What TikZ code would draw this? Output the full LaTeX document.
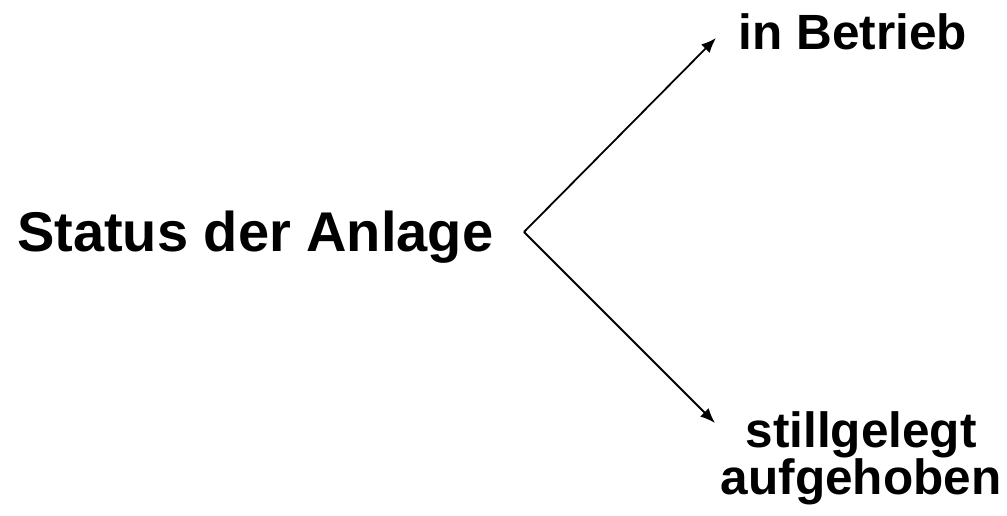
\documentclass[tikz,border=0pt]{standalone}
\usepackage{fontspec}
\setmainfont{Liberation Sans}
\usetikzlibrary{arrows.meta}
\tikzset{
  lbl/.style={inner sep=0pt, font=\bfseries\fontsize{49.5}{47}\selectfont, align=center},
  mainlbl/.style={inner sep=0pt, font=\bfseries\fontsize{56}{56}\selectfont},
  conn/.style={line width=1.8pt, -{Latex[length=15pt,width=12pt]}}
}
\begin{document}
\begin{tikzpicture}[x=1pt,y=1pt]
\useasboundingbox (0,0) rectangle (1007,516);
\node[mainlbl, anchor=base west] (status) at (17,264) {Status der Anlage};
\node[lbl, anchor=base] (betrieb) at (853,466) {in Betrieb};
\node[lbl, anchor=base] (still) at (861,21) {stillgelegt\\aufgehoben};
\coordinate (v) at (524,284);
\coordinate (t1) at (716,478);
\coordinate (t2) at (715,93);
\draw[conn] (v) -- (t1);
\draw[conn] (v) -- (t2);
\end{tikzpicture}
\end{document}
